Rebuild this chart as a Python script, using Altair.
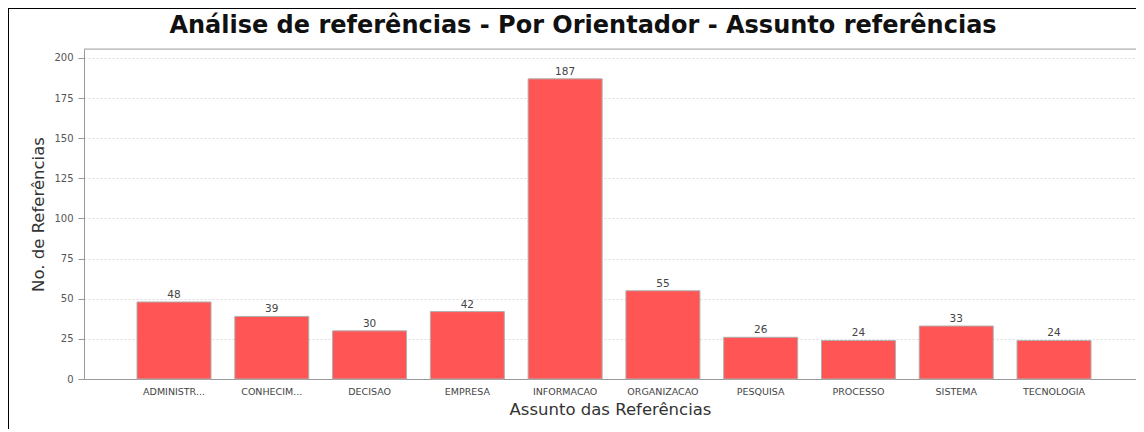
import altair as alt
import pandas as pd

categories = ["ADMINISTR...", "CONHECIM...", "DECISAO", "EMPRESA", "INFORMACAO",
              "ORGANIZACAO", "PESQUISA", "PROCESSO", "SISTEMA", "TECNOLOGIA"]
values = [48, 39, 30, 42, 187, 55, 26, 24, 33, 24]
y_ticks = [0, 25, 50, 75, 100, 125, 150, 175, 200]
title_text = "Análise de referências - Por Orientador - Assunto referências"

df = pd.DataFrame({"cat": categories, "val": values})
one = pd.DataFrame({"t": [title_text]})

W, H = 1052, 330
FONT = "DejaVu Sans"

x_enc = alt.X(
    "cat:N", sort=None,
    scale=alt.Scale(paddingInner=0.2432, paddingOuter=0.501, align=0.541),
    axis=alt.Axis(title="Assunto das Referências", labelAngle=0, ticks=False, tickSize=0,
                  labelPadding=7, labelFontSize=9.5, labelColor="#444", labelFont=FONT,
                  domainColor="#999", titleFontSize=16.5, titleFontWeight="normal",
                  titleColor="#333", titleFont=FONT, titlePadding=6),
)
y_enc = alt.Y(
    "val:Q",
    scale=alt.Scale(domain=[0, 205.6], nice=False, zero=True),
    axis=alt.Axis(title="No. de Referências", values=y_ticks, tickSize=6, tickColor="#999",
                  labelPadding=5, labelFontSize=10, labelColor="#555", labelFont=FONT,
                  domainColor="#999", gridColor="#dddddd", gridDash=[2, 2],
                  titleFontSize=16.5, titleFontWeight="normal", titleColor="#333",
                  titleFont=FONT, titlePadding=7),
)

bars = alt.Chart(df).mark_bar(color="#FF5555", stroke="#b0b0b0", strokeWidth=1).encode(
    x=x_enc, y=y_enc
)
labels = alt.Chart(df).mark_text(dy=-4, baseline="alphabetic", fontSize=10.5, color="#444",
                                 font=FONT).encode(
    x=alt.X("cat:N", sort=None), y=alt.Y("val:Q"), text=alt.Text("val:Q")
)
top_border = alt.Chart(one).mark_rule(color="#aaaaaa", strokeWidth=1).encode(
    x=alt.value(0), x2=alt.value(W + 20), y=alt.value(0)
)
frame_top = alt.Chart(one).mark_rule(color="black", strokeWidth=2).encode(
    x=alt.value(-80), x2=alt.value(W + 20), y=alt.value(-41)
)
frame_left = alt.Chart(one).mark_rule(color="black", strokeWidth=2).encode(
    x=alt.value(-76), y=alt.value(-45), y2=alt.value(H + 80)
)
title = alt.Chart(one).mark_text(fontSize=24, font=FONT, fontWeight="bold", color="#111",
                                 align="center", baseline="alphabetic").encode(
    x=alt.value(W / 2 - 27), y=alt.value(-16), text="t:N"
)

chart = alt.layer(top_border, bars, labels, frame_top, frame_left, title).properties(
    width=W, height=H,
    padding={"left": 76, "top": 41, "right": 0, "bottom": 50},
    autosize=alt.AutoSizeParams(type="none"),
).configure_view(stroke=None).configure(background="white")

chart.save("out.html", embed_options={"renderer": "svg", "actions": False})
